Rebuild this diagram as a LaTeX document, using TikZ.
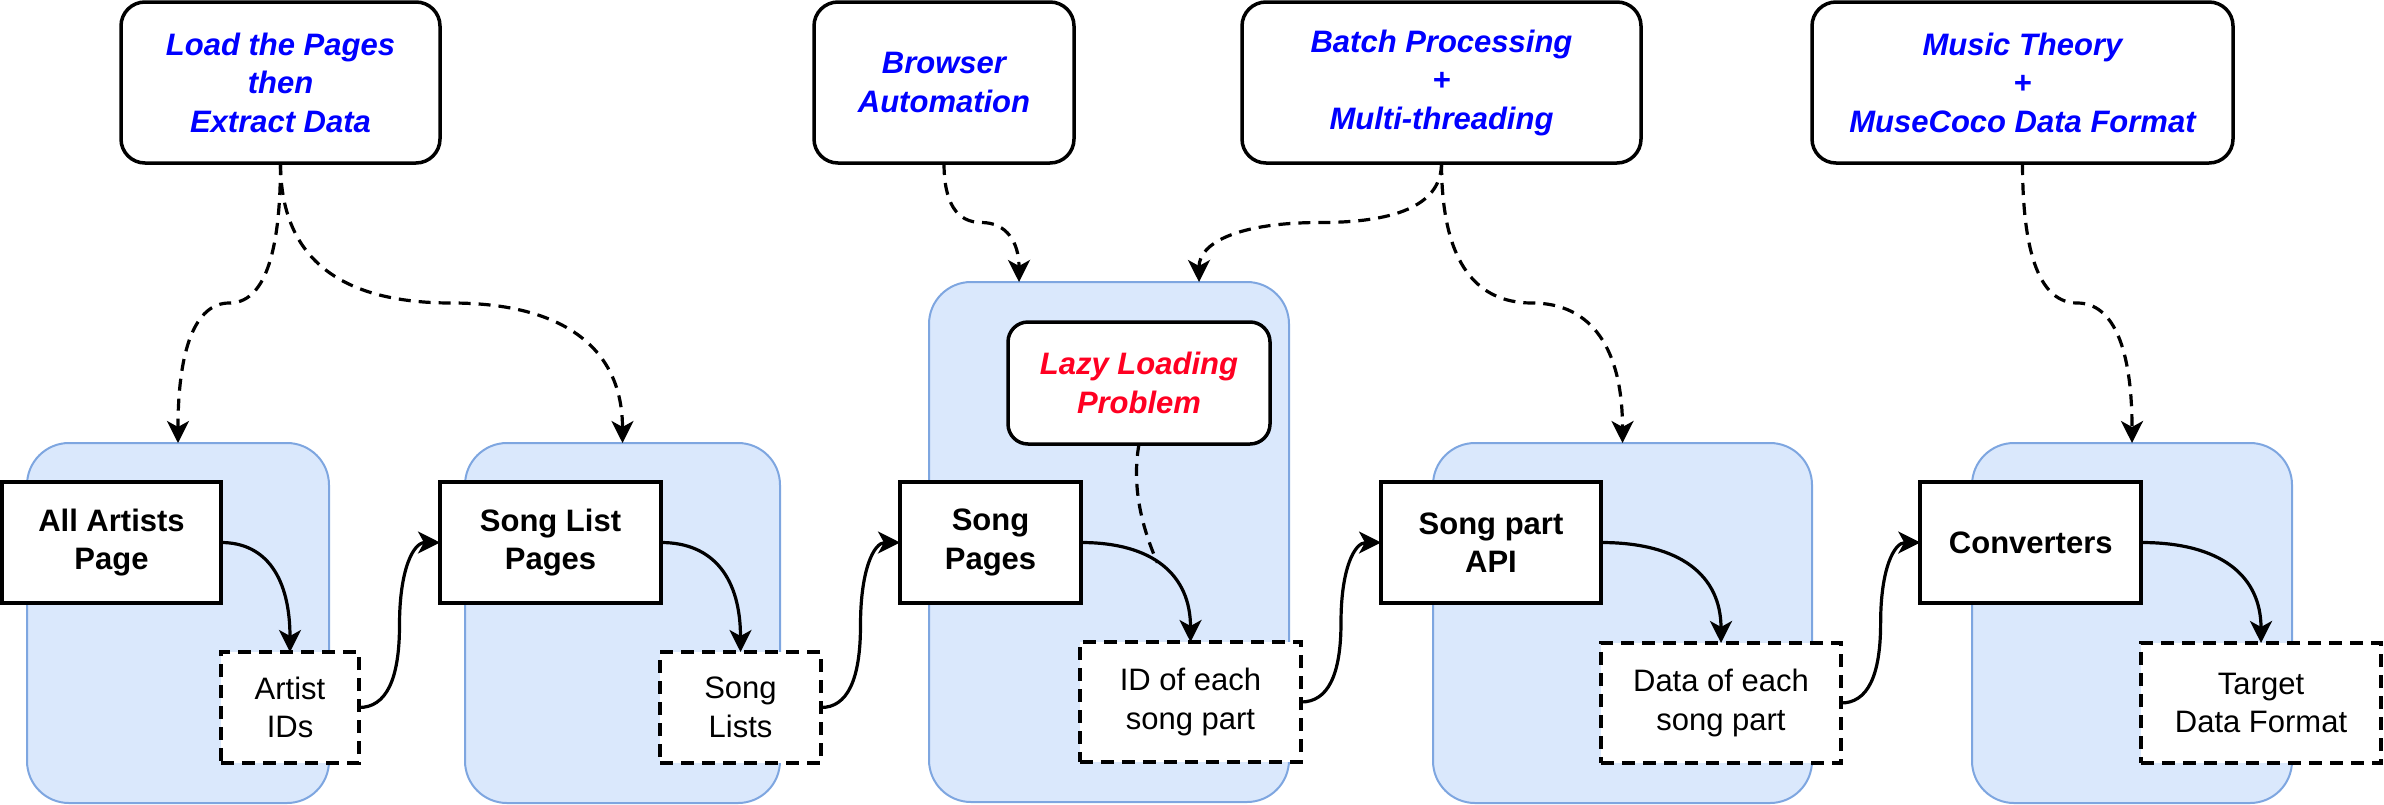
\documentclass[tikz,border=0pt]{standalone}
\usepackage{fontspec}
\setmainfont{Liberation Sans}
\usetikzlibrary{arrows.meta,calc}
\definecolor{cfill}{HTML}{DAE8FC}
\definecolor{cstroke}{HTML}{7EA6E0}
\definecolor{tblue}{HTML}{0000FF}
\definecolor{tred}{HTML}{FF0022}
\begin{document}
\begin{tikzpicture}[x=1pt,y=-1pt,
  every node/.style={inner sep=0pt, outer sep=0pt},
  txt/.style={font=\fontsize{31}{38.5}\selectfont, align=center},
  cont/.style={draw=cstroke, fill=cfill, line width=2pt, rounded corners=42pt},
  topbox/.style={draw=black, fill=white, line width=3.5pt, rounded corners=24pt, text=tblue, align=center, font=\fontsize{31}{38.5}\selectfont\bfseries\itshape},
  lazybox/.style={topbox, rounded corners=20pt, text=tred},
  sbox/.style={draw=black, fill=white, line width=4pt, align=center, font=\fontsize{31}{38.5}\selectfont\bfseries},
  dbox/.style={draw=black, fill=white, line width=3.5pt, dash pattern=on 13pt off 8pt, align=center, font=\fontsize{31}{38.5}\selectfont},
  tipstyle/.style={-{Stealth[length=22pt, width=22pt, inset=6pt]}},
  conn/.style={line width=3.2pt, tipstyle},
  dconn/.style={line width=3.2pt, dash pattern=on 12pt off 8pt, tipstyle},
  dline/.style={line width=3.2pt, dash pattern=on 12pt off 8pt}
]
\useasboundingbox (0,0) rectangle (2384,804);

% containers
\node[cont, minimum width=302pt, minimum height=360pt] (c1) at (178,623) {};
\node[cont, minimum width=315pt, minimum height=360pt] (c2) at (622.5,623) {};
\node[cont, minimum width=360pt, minimum height=520pt] (c3) at (1109,542) {};
\node[cont, minimum width=379pt, minimum height=360pt] (c4) at (1622.5,623) {};
\node[cont, minimum width=320pt, minimum height=360pt] (c5) at (2132,623) {};
\coordinate (c3a) at ($(c3.north west)!0.25!(c3.north east)$);
\coordinate (c3b) at ($(c3.north west)!0.75!(c3.north east)$);

% top boxes
\node[topbox, minimum width=319pt, minimum height=161pt] (load) at (280.5,82.5) {Load the Pages\\then\\Extract Data};
\node[topbox, minimum width=260pt, minimum height=161pt] (browser) at (944,82.5) {Browser\\Automation};
\node[topbox, minimum width=399pt, minimum height=161pt] (batch) at (1441.5,82.5) {Batch Processing\\+\\Multi-threading};
\node[topbox, minimum width=421pt, minimum height=161pt] (music) at (2022.5,82.5) {Music Theory\\+\\MuseCoco Data Format};
\node[lazybox, minimum width=262pt, minimum height=122pt] (lazy) at (1139,383) {Lazy Loading\\Problem};

% solid boxes
\node[sbox, minimum width=219pt, minimum height=121pt] (aap) at (111.5,542.5) {All Artists\\Page};
\node[sbox, minimum width=221pt, minimum height=121pt] (slp) at (550.5,542.5) {Song List\\Pages};
\node[sbox, minimum width=181pt, minimum height=121pt] (sp) at (990.5,542.5) {Song\\Pages};
\node[sbox, minimum width=220pt, minimum height=121pt] (spa) at (1491,542.5) {Song part\\API};
\node[sbox, minimum width=221pt, minimum height=121pt] (conv) at (2030.75,542.5) {Converters};

% dashed boxes
\node[dbox, minimum width=138pt, minimum height=111pt] (aid) at (290,707.5) {Artist\\IDs};
\node[dbox, minimum width=161pt, minimum height=111pt] (sl) at (740.5,707.5) {Song\\Lists};
\node[dbox, minimum width=221pt, minimum height=120pt] (idp) at (1190.5,702) {ID of each\\song part};
\node[dbox, minimum width=240pt, minimum height=120pt] (dp) at (1721,703) {Data of each\\song part};
\node[dbox, minimum width=240pt, minimum height=120pt] (tdf) at (2261,703) {Target\\Data Format};

% dashed connectors from top boxes
\draw[dconn] (load.south) .. controls +(0,93.3) and +(34.2,0) .. ($(load.south)!.5!(c1.north)$) .. controls +(-34.2,0) and +(0,-93.3) .. (c1.north);
\draw[dconn] (load.south) .. controls +(0,93.3) and +(-114,0) .. ($(load.south)!.5!(c2.north)$) .. controls +(114,0) and +(0,-93.3) .. (c2.north);
\draw[dconn] (browser.south) .. controls +(0,39.7) and +(-25,0) .. ($(browser.south)!.5!(c3a)$) .. controls +(25,0) and +(0,-39.7) .. (c3a);
\draw[dconn] (batch.south) .. controls +(0,39.7) and +(80.8,0) .. ($(batch.south)!.5!(c3b)$) .. controls +(-80.8,0) and +(0,-39.7) .. (c3b);
\draw[dconn] (batch.south) .. controls +(0,93.3) and +(-60.3,0) .. ($(batch.south)!.5!(c4.north)$) .. controls +(60.3,0) and +(0,-93.3) .. (c4.north);
\draw[dconn] (music.south) .. controls +(0,93.3) and +(-36.5,0) .. ($(music.south)!.5!(c5.north)$) .. controls +(36.5,0) and +(0,-93.3) .. (c5.north);

% solid connectors: box -> its output
\draw[conn] (aap.east) .. controls +(46,0) and +(0,-73) .. (aid.north);
\draw[conn] (slp.east) .. controls +(53,0) and +(0,-73) .. (sl.north);
\draw[conn] (sp.east) .. controls +(73,0) and +(0,-66.3) .. (idp.north) coordinate[pos=0.45] (lzend);
\draw[conn] (spa.east) .. controls +(80,0) and +(0,-67) .. (dp.north);
\draw[conn] (conv.east) .. controls +(79.8,0) and +(0,-67) .. (tdf.north);

% solid connectors: output -> next box
\draw[conn] (aid.east) .. controls +(27,0) and +(0,55) .. ($(aid.east)!.5!(slp.west)$) .. controls +(0,-55) and +(-27,0) .. (slp.west);
\draw[conn] (sl.east) .. controls +(26.3,0) and +(0,55) .. ($(sl.east)!.5!(sp.west)$) .. controls +(0,-55) and +(-26.3,0) .. (sp.west);
\draw[conn] (idp.east) .. controls +(26.7,0) and +(0,53.2) .. ($(idp.east)!.5!(spa.west)$) .. controls +(0,-53.2) and +(-26.7,0) .. (spa.west);
\draw[conn] (dp.east) .. controls +(26.4,0) and +(0,53.5) .. ($(dp.east)!.5!(conv.west)$) .. controls +(0,-53.5) and +(-26.4,0) .. (conv.west);

% lazy loading dashed line
\draw[dline] (lazy.south) .. controls +(-8,45) and +(-14,-32) .. (lzend);
\end{tikzpicture}
\end{document}
